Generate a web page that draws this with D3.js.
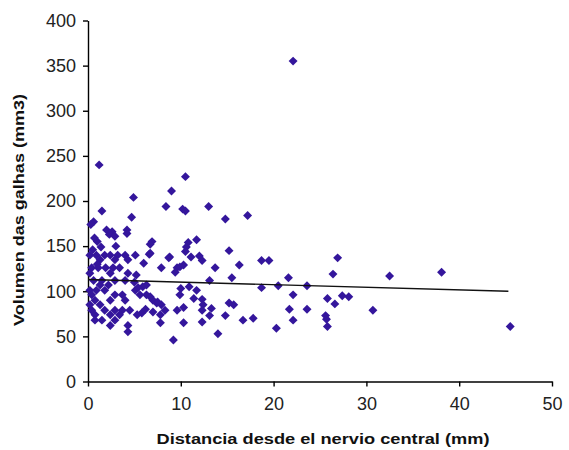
<!DOCTYPE html>
<html>
<head>
<meta charset="utf-8">
<script src="https://cdn.jsdelivr.net/npm/d3@7"></script>
<style>
  body { margin: 0; background: #fff; }
  .axis text { font-family: "Liberation Sans", Arial, sans-serif; font-size: 18px; fill: #222; }
  .axis path, .axis line { stroke: #000; stroke-width: 1.4px; }
  .title { font-family: "Liberation Sans", Arial, sans-serif; font-size: 14px; font-weight: bold; fill: #111; }
</style>
</head>
<body>
<div id="chart"></div>
<script>
// distancia desde el nervio central (mm)
const distX = [
  22.1, 1.2, 10.5, 9.0, 4.9, 8.4, 1.5, 10.2, 10.5, 13.0, 14.8, 17.2, 4.7, 0.6, 0.3,
  2.0, 2.6, 2.3, 2.9, 4.2, 4.2, 0.7, 1.0, 1.4, 6.9, 6.7, 10.8, 10.6, 11.7, 10.5,
  11.1, 12.0, 12.3, 8.8, 15.2, 16.3, 18.7, 19.5, 13.7, 10.3, 9.6, 9.4, 13.1, 15.5, 21.6,
  10.0, 10.9, 9.9, 18.7, 20.5, 11.7, 11.4, 12.3, 12.4, 13.3, 12.3, 15.2, 15.7, 9.6, 10.3,
  10.3, 12.3, 13.1, 14.8, 16.7, 17.8, 20.3, 14.0, 9.2, 23.6, 22.1, 21.7, 23.6, 22.1, 26.9,
  26.4, 25.8, 26.6, 27.4, 28.1, 25.6, 25.7, 25.8, 30.7, 32.5, 38.1, 45.5, 6.6, 8.7, 7.9,
  9.9, 6.0, 5.9, 6.3, 7.0, 7.4, 7.9, 8.3, 7.8, 7.0, 5.8, 7.8, 6.3, 0.5, 0.2,
  0.9, 1.8, 2.4, 3.2, 4.0, 5.1, 1.3, 2.9, 4.3, 0.4, 1.1, 1.9, 2.7, 3.4, 0.2,
  2.4, 4.3, 5.2, 0.6, 1.5, 2.9, 4.0, 1.3, 2.2, 0.2, 0.9, 1.8, 5.1, 0.4, 2.9,
  3.7, 5.6, 0.75, 2.4, 4.0, 0.2, 1.3, 0.4, 1.8, 2.9, 3.7, 4.5, 6.2, 0.75, 2.4,
  3.4, 5.3, 0.75, 1.5, 2.9, 2.4, 4.3, 6.7, 5.4, 6.7, 7.5, 4.3, 3.0, 5.0, 1.0
];
// volumen das galhas (mm3)
const volY = [
  355, 240, 227, 211, 204, 194, 189, 191, 189, 194, 180, 184, 182, 177, 174,
  168, 166, 163, 161, 168, 164, 159, 155, 149, 155, 152, 154, 149, 157, 144,
  138, 139, 134, 138, 145, 129, 134, 134, 126, 129, 126, 121, 112, 115, 115,
  103, 105, 96, 104, 106, 101, 92, 91, 85, 81, 79, 87, 85, 79, 82,
  65, 66, 73, 73, 68, 70, 59, 53, 46, 106, 96, 80, 80, 68, 137,
  119, 92, 86, 95, 94, 73, 69, 61, 79, 117, 121, 61, 141, 137, 126,
  127, 131, 105, 96, 90, 87, 85, 79, 74, 77, 76, 65, 107, 146, 140,
  140, 140, 140, 140, 140, 140, 135, 135, 135, 126, 126, 126, 126, 126, 120,
  120, 120, 118, 112, 112, 112, 112, 107, 107, 101, 101, 101, 101, 96, 96,
  96, 96, 90, 90, 90, 85, 85, 79, 79, 79, 79, 79, 80, 74, 74,
  74, 74, 68, 68, 68, 62, 62, 142, 104, 94, 88, 55, 150, 110, 130
];

const xTicks = [0, 10, 20, 30, 40, 50];
const yTicks = [0, 50, 100, 150, 200, 250, 300, 350, 400];

// linea de tendencia
const trendX = [0, 45.3];
const trendY = [113, 100];

const W = 569;
const H = 450;
const margin = {top: 20.5, right: 17, bottom: 68.5, left: 88};
const width = W - margin.left - margin.right;
const height = H - margin.top - margin.bottom;

const x = d3.scaleLinear().domain([0, 50]).range([0, width]);
const y = d3.scaleLinear().domain([0, 400]).range([height, 0]);

const svg = d3
  .select('#chart')
  .append('svg')
  .attr('width', W)
  .attr('height', H);

const g = svg.append('g').attr('transform', `translate(${margin.left},${margin.top})`);

g.append('g')
  .attr('class', 'axis')
  .attr('transform', `translate(0,${height})`)
  .call(d3.axisBottom(x).tickValues(xTicks).tickSize(5).tickSizeOuter(0).tickPadding(11));

g.append('g')
  .attr('class', 'axis')
  .call(d3.axisLeft(y).tickValues(yTicks).tickSize(5).tickSizeOuter(0).tickPadding(7));

const points = distX.map((d, i) => ({x: d, y: volY[i]}));

// Excel-style diamond: a square turned 45 degrees
g.append('g')
  .selectAll('path')
  .data(points)
  .enter()
  .append('path')
  .attr('d', d3.symbol().type(d3.symbolSquare).size(40))
  .attr('transform', d => `translate(${x(d.x)},${y(d.y)}) rotate(45)`)
  .attr('fill', '#34169c');

const trend = trendX.map((d, i) => ({x: d, y: trendY[i]}));
g.append('path')
  .datum(trend)
  .attr('fill', 'none')
  .attr('stroke', '#111')
  .attr('stroke-width', 1.4)
  .attr('d', d3.line().x(d => x(d.x)).y(d => y(d.y)));

svg.append('text')
  .attr('class', 'title')
  .attr('x', 323)
  .attr('y', 444)
  .attr('text-anchor', 'middle')
  .attr('textLength', 333)
  .attr('lengthAdjust', 'spacingAndGlyphs')
  .text('Distancia desde el nervio central (mm)');

svg.append('text')
  .attr('class', 'title')
  .attr('transform', 'translate(24,210) rotate(-90)')
  .attr('text-anchor', 'middle')
  .attr('textLength', 232)
  .attr('lengthAdjust', 'spacingAndGlyphs')
  .text('Volumen das galhas (mm3)');
</script>
</body>
</html>
